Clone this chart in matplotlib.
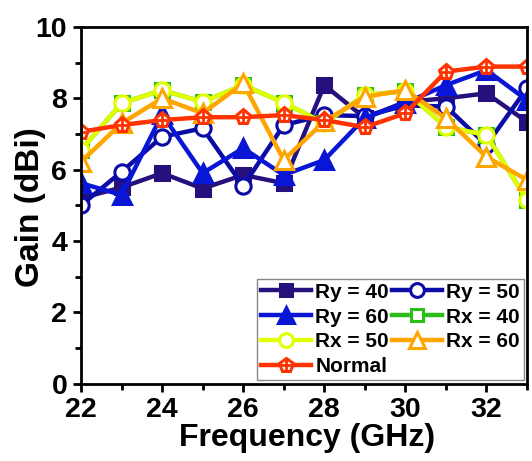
import matplotlib
matplotlib.use("Agg")
import matplotlib.pyplot as plt
from matplotlib.legend_handler import HandlerTuple
from matplotlib.ticker import MultipleLocator

plt.rcParams['font.family'] = ['Liberation Sans', 'DejaVu Sans']
plt.rcParams['font.weight'] = 'bold'

freq = [22, 23, 24, 25, 26, 27, 28, 29, 30, 31, 32, 33]
ry40 = [5.2, 5.5, 5.9, 5.47, 5.85, 5.62, 8.37, 7.45, 7.9, 8.0, 8.14, 7.34]
ry50 = [5.0, 5.94, 6.92, 7.16, 5.54, 7.25, 7.53, 7.5, 7.8, 7.77, 6.69, 8.28]
ry60 = [5.62, 5.29, 7.55, 5.9, 6.6, 5.85, 6.27, 7.45, 7.87, 8.37, 8.79, 7.95]
rx40 = [6.55, 7.86, 8.23, 7.9, 8.37, 7.88, 7.3, 8.09, 8.2, 7.2, 6.97, 5.15]
rx50 = [6.55, 7.86, 8.23, 7.9, 8.37, 7.88, 7.3, 8.09, 8.2, 7.2, 6.97, 5.15]
rx60 = [6.22, 7.3, 8.0, 7.58, 8.42, 6.27, 7.35, 8.04, 8.23, 7.44, 6.36, 5.71]
normal = [7.06, 7.25, 7.39, 7.47, 7.47, 7.53, 7.39, 7.19, 7.58, 8.75, 8.89, 8.89]

labels = ['Ry = 40', 'Ry = 50', 'Ry = 60', 'Rx = 40', 'Rx = 50', 'Rx = 60', 'Normal']

fig = plt.figure(figsize=(5.32, 4.61), dpi=100)
ax = fig.add_axes([0.1523, 0.168, 0.8383, 0.7734])

lw = 3.2
ms = 10
mew = 2.2

h40, = ax.plot(freq, ry40, color='#26107e', lw=lw, marker='s', ms=ms, mfc='#26107e', mec='#26107e', mew=mew)
h50, = ax.plot(freq, ry50, color='#0b0ba6', lw=lw, marker='o', ms=ms + 1, mfc='white', mec='#0b0ba6', mew=mew)
h60, = ax.plot(freq, ry60, color='#0a16d6', lw=lw, marker='^', ms=ms + 3, mfc='#0a16d6', mec='#0a16d6', mew=mew)
hx40, = ax.plot(freq, rx40, color='#2cbf1a', lw=lw, marker='s', ms=ms, mfc='white', mec='#2cbf1a', mew=mew)
hx50, = ax.plot(freq, rx50, color='#e2ff00', lw=lw, marker='o', ms=ms + 1, mfc='white', mec='#e2ff00', mew=mew)
hx60, = ax.plot(freq, rx60, color='#ffa500', lw=lw, marker='^', ms=ms + 3, mfc='white', mec='#ffa500', mew=mew)
hn, = ax.plot(freq, normal, color='#ff3300', lw=lw, marker='p', ms=ms + 1, mfc='white', mec='#ff3300', mew=mew)
hn2, = ax.plot(freq, normal, color='#ff3300', lw=0, marker='+', ms=ms - 1, mec='#ff3300', mew=2.0)

ax.set_xlim(22, 33)
ax.set_ylim(0, 10)
ax.xaxis.set_major_locator(MultipleLocator(2))
ax.xaxis.set_minor_locator(MultipleLocator(1))
ax.yaxis.set_major_locator(MultipleLocator(2))
ax.yaxis.set_minor_locator(MultipleLocator(1))
ax.tick_params(which='major', direction='out', length=6, width=2, labelsize=20.5)
ax.tick_params(axis='x', which='major', pad=4)
ax.tick_params(axis='y', which='major', pad=4)
ax.tick_params(which='minor', direction='out', length=4, width=2)
for lab in ax.get_xticklabels() + ax.get_yticklabels():
    lab.set_fontweight('bold')
for sp in ax.spines.values():
    sp.set_linewidth(2)

ax.set_xlabel('Frequency (GHz)', fontsize=23, fontweight='bold')
ax.set_ylabel('Gain (dBi)', fontsize=24, fontweight='bold')
ax.xaxis.set_label_coords(0.507, -0.112)
ax.yaxis.set_label_coords(-0.078, 0.494)

handles = [h40, h60, hx50, (hn, hn2), h50, hx40, hx60]
leg_labels = [labels[0], labels[2], labels[4], labels[6], labels[1], labels[3], labels[5]]
leg = ax.legend(handles, leg_labels, ncol=2, loc='lower right',
                handler_map={tuple: HandlerTuple(ndivide=1)},
                prop={'weight': 'bold', 'size': 15}, fancybox=False,
                edgecolor='#888888', framealpha=1, handlelength=2.4,
                handletextpad=0.2, columnspacing=0.15, labelspacing=0.28,
                borderpad=0.2, borderaxespad=0.15, markerscale=0.9)
leg.get_frame().set_linewidth(1.0)

fig.savefig('out.png', dpi=100)
